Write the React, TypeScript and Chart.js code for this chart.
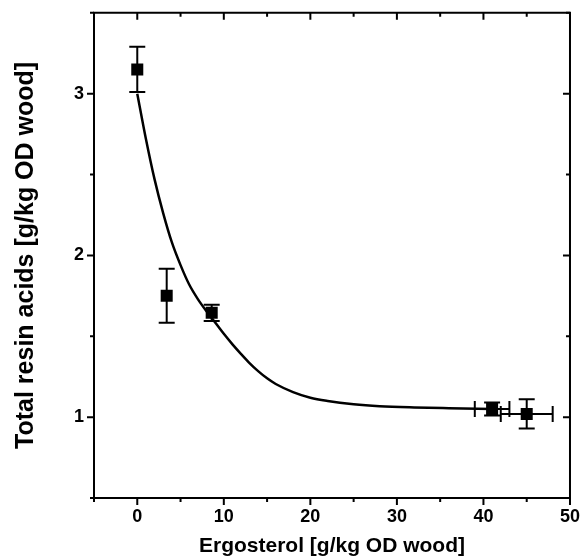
import React, { useEffect, useRef } from "react";
import { Chart, registerables } from "chart.js";

Chart.register(...registerables);

// Measured points
const pointX = [0, 3.4, 8.6, 41.0, 45.0];
const pointY = [3.15, 1.75, 1.645, 1.05, 1.02];
const pointYErr = [0.14, 0.167, 0.05, 0.04, 0.09];
const pointXErr = [0, 0, 0, 2.0, 3.0];

// Fitted curve
const curveX = [0, 1, 2, 3, 4, 5, 6, 7, 8, 9, 10, 11, 12, 13, 14, 15, 16, 18, 20, 22, 25, 28, 32, 36, 41];
const curveY = [3.0, 2.72, 2.47, 2.26, 2.08, 1.94, 1.82, 1.73, 1.655, 1.585, 1.515, 1.45, 1.39, 1.333, 1.283, 1.24, 1.205, 1.155, 1.12, 1.1, 1.08, 1.068, 1.06, 1.055, 1.05];

// Axes
const xMajorTicks = [0, 10, 20, 30, 40, 50];
const xMinorTicks = [-5, 5, 15, 25, 35, 45];
const yMajorTicks = [1, 2, 3];
const yMinorTicks = [0.5, 1.5, 2.5, 3.5];
const xTitle = "Ergosterol [g/kg OD wood]";
const yTitle = "Total resin acids [g/kg OD wood]";

const FONT = "'Liberation Sans', Arial, sans-serif";

const errorBarPlugin = {
  id: "errorBars",
  afterDatasetsDraw(chart: any) {
    const { ctx, scales } = chart;
    const xs = scales.x;
    const ys = scales.y;
    const cap = 8;
    ctx.save();
    ctx.strokeStyle = "#000";
    ctx.lineWidth = 2;
    for (let i = 0; i < pointX.length; i++) {
      const px = xs.getPixelForValue(pointX[i]);
      const py = ys.getPixelForValue(pointY[i]);
      if (pointYErr[i] > 0) {
        const t = ys.getPixelForValue(pointY[i] + pointYErr[i]);
        const b = ys.getPixelForValue(pointY[i] - pointYErr[i]);
        ctx.beginPath();
        ctx.moveTo(px, t);
        ctx.lineTo(px, b);
        ctx.moveTo(px - cap, t);
        ctx.lineTo(px + cap, t);
        ctx.moveTo(px - cap, b);
        ctx.lineTo(px + cap, b);
        ctx.stroke();
      }
      if (pointXErr[i] > 0) {
        const l = xs.getPixelForValue(pointX[i] - pointXErr[i]);
        const r = xs.getPixelForValue(pointX[i] + pointXErr[i]);
        ctx.beginPath();
        ctx.moveTo(l, py);
        ctx.lineTo(r, py);
        ctx.moveTo(l, py - cap);
        ctx.lineTo(l, py + cap);
        ctx.moveTo(r, py - cap);
        ctx.lineTo(r, py + cap);
        ctx.stroke();
      }
    }
    ctx.restore();
  },
};

const framePlugin = {
  id: "frameTicks",
  afterDraw(chart: any) {
    const { ctx, scales, chartArea } = chart;
    const { left, right, top, bottom } = chartArea;
    const xs = scales.x;
    const ys = scales.y;
    const maj = 7;
    const min = 4;
    ctx.save();
    ctx.strokeStyle = "#000";
    ctx.lineWidth = 2;
    ctx.beginPath();
    ctx.rect(left, top, right - left, bottom - top);
    ctx.stroke();
    ctx.beginPath();
    const xt = (v: number, len: number) => {
      const p = xs.getPixelForValue(v);
      ctx.moveTo(p, bottom);
      ctx.lineTo(p, bottom + len);
      ctx.moveTo(p, top);
      ctx.lineTo(p, top + len);
    };
    const yt = (v: number, len: number) => {
      const p = ys.getPixelForValue(v);
      ctx.moveTo(left, p);
      ctx.lineTo(left - len, p);
      ctx.moveTo(right, p);
      ctx.lineTo(right - len, p);
    };
    xMajorTicks.forEach((v) => xt(v, maj));
    xMinorTicks.forEach((v) => xt(v, min));
    yMajorTicks.forEach((v) => yt(v, maj));
    yMinorTicks.forEach((v) => yt(v, min));
    ctx.stroke();
    ctx.restore();
  },
};

export default function App() {
  const ref = useRef<HTMLCanvasElement | null>(null);
  useEffect(() => {
    if (!ref.current) return;
    const chart = new Chart(ref.current, {
      type: "scatter",
      data: {
        datasets: [
          {
            type: "line",
            data: curveX.map((x, i) => ({ x, y: curveY[i] })),
            borderColor: "#000",
            borderWidth: 2.5,
            pointRadius: 0,
            cubicInterpolationMode: "monotone",
            fill: false,
          } as any,
          {
            data: pointX.map((x, i) => ({ x, y: pointY[i] })),
            pointStyle: "rect",
            pointRadius: 8.5,
            backgroundColor: "#000",
            borderColor: "#000",
            borderWidth: 0,
          },
        ],
      },
      options: {
        animation: false,
        responsive: false,
        maintainAspectRatio: false,
        layout: { padding: { left: 0, top: 10, right: 10, bottom: 0 } },
        plugins: { legend: { display: false }, tooltip: { enabled: false } },
        scales: {
          x: {
            type: "linear",
            min: -5,
            max: 50,
            afterBuildTicks: (s: any) => {
              s.ticks = xMajorTicks.map((v) => ({ value: v }));
            },
            afterFit: (s: any) => {
              s.height = 61;
            },
            grid: { display: false, drawTicks: true, tickLength: 8 },
            border: { display: false },
            ticks: {
              color: "#000",
              padding: 0,
              maxRotation: 0,
              font: { family: FONT, size: 18, weight: "bold" },
            },
            title: {
              display: true,
              text: xTitle,
              color: "#000",
              padding: 0,
              font: { family: FONT, size: 21, weight: "bold" },
            },
          },
          y: {
            type: "linear",
            min: 0.5,
            max: 3.5,
            afterBuildTicks: (s: any) => {
              s.ticks = yMajorTicks.map((v) => ({ value: v }));
            },
            afterFit: (s: any) => {
              s.width = 94;
            },
            grid: { display: false, drawTicks: true, tickLength: 8 },
            border: { display: false },
            ticks: {
              color: "#000",
              padding: 2,
              font: { family: FONT, size: 18, weight: "bold" },
            },
            title: {
              display: true,
              text: yTitle,
              color: "#000",
              padding: { top: 11, bottom: 0 },
              font: { family: FONT, size: 25, weight: "bold" },
            },
          },
        },
      },
      plugins: [errorBarPlugin, framePlugin],
    });
    return () => chart.destroy();
  }, []);
  return (
    <div style={{ position: "absolute", left: 0, top: 0, width: 580, height: 559, background: "#fff" }}>
      <canvas ref={ref} width={580} height={559} />
    </div>
  );
}
